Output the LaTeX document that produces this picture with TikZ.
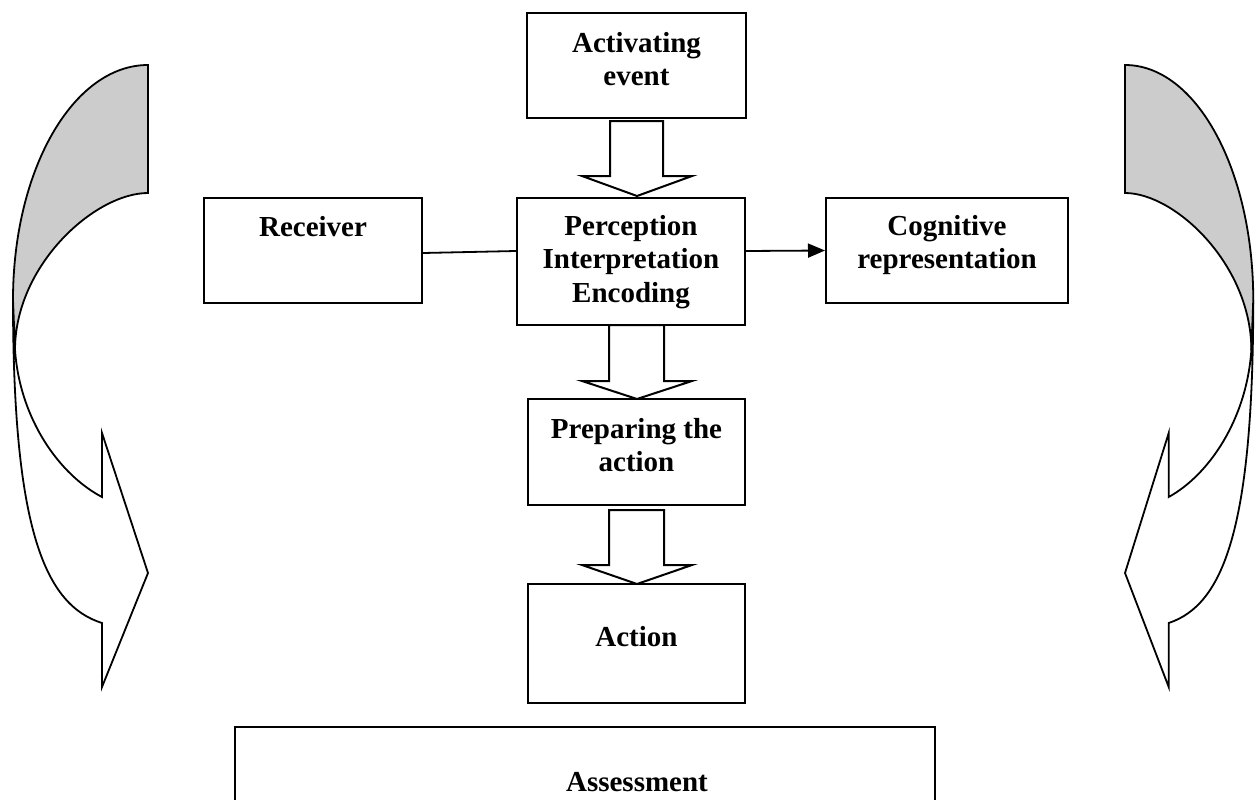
\documentclass[tikz,border=0pt]{standalone}
\usepackage{fontspec}
\setmainfont{Liberation Serif}
\usetikzlibrary{arrows.meta,calc}
\begin{document}
\begin{tikzpicture}[x=1pt,y=-1pt,
  box/.style={draw, line width=2pt, rectangle, inner sep=0pt},
  txt/.style={font=\bfseries\fontsize{29}{33.5}\selectfont, align=center, inner sep=0pt},
  barrow/.style={draw, line width=2pt, fill=white, line join=miter},
  band/.style={draw, line width=1.8pt, line join=miter},
  conn/.style={line width=1.8pt}]
\useasboundingbox (0,0) rectangle (1255,800);
\clip (0,0) rectangle (1255,800);

% boxes
\node[box, minimum width=219pt, minimum height=105pt] (act) at (636.5,65.5) {};
\node[box, minimum width=228pt, minimum height=127pt] (perc) at (631,261.5) {};
\node[box, minimum width=217pt, minimum height=106pt] (prep) at (636.5,452) {};
\node[box, minimum width=217pt, minimum height=119pt] (action) at (636.5,643.5) {};
\node[box, minimum width=218pt, minimum height=105pt] (rec) at (313,250.5) {};
\node[box, minimum width=242pt, minimum height=105pt] (cog) at (947,250.5) {};
\node[box, minimum width=700pt, minimum height=110pt] (assess) at (585,782) {};

% texts
\node[txt] (actT) at (636.5,59) {Activating\\event};
\node[txt] (percT) at (631,262) {Perception\\Interpretation\\Encoding};
\node[txt] (prepT) at (636.5,445) {Preparing the\\action};
\node[txt] (actionT) at (636.5,637) {Action};
\node[txt] (recT) at (313,227) {Receiver};
\node[txt] (cogT) at (947,245) {Cognitive\\representation};
\node[txt] (assessT) at (637,782) {Assessment};

% block arrows
\draw[barrow] (610,121) -- (663,121) -- (663,176) -- (692,176) -- (637,196) -- (582,176) -- (610,176) -- cycle;
\draw[barrow] (609,325) -- (664,325) -- (664,381) -- (692,381) -- (637,399) -- (582,381) -- (609,381) -- cycle;
\draw[barrow] (609,510) -- (664,510) -- (664,565) -- (692,565) -- (637,584) -- (582,565) -- (609,565) -- cycle;

% connectors
\draw[conn] ([yshift=-2.5pt]rec.east) -- ([yshift=10.5pt]perc.west);
\draw[conn, -{Triangle[length=17pt,width=14pt]}] ([yshift=10.5pt]perc.east) -- (cog.west);

% left curved arrow
\path[band, fill=white] (13,300) .. controls (13,530) and (45,605) .. (102,623)
  -- (102,687) -- (148,573) -- (102,433) -- (102,497)
  .. controls (60,475) and (20,420) .. (15,350) -- cycle;
\path[band, fill=black!20] (148,65) .. controls (73,65) and (13,170) .. (13,300)
  -- (15,350) .. controls (15,265) and (95,193) .. (148,193) -- cycle;

% right curved arrow (mirror)
\begin{scope}[xshift=1265.6pt, xscale=-0.95]
\path[band, fill=white] (13,300) .. controls (13,530) and (45,605) .. (102,623)
  -- (102,687) -- (148,573) -- (102,433) -- (102,497)
  .. controls (60,475) and (20,420) .. (15,350) -- cycle;
\path[band, fill=black!20] (148,65) .. controls (73,65) and (13,170) .. (13,300)
  -- (15,350) .. controls (15,265) and (95,193) .. (148,193) -- cycle;
\end{scope}
\end{tikzpicture}
\end{document}
